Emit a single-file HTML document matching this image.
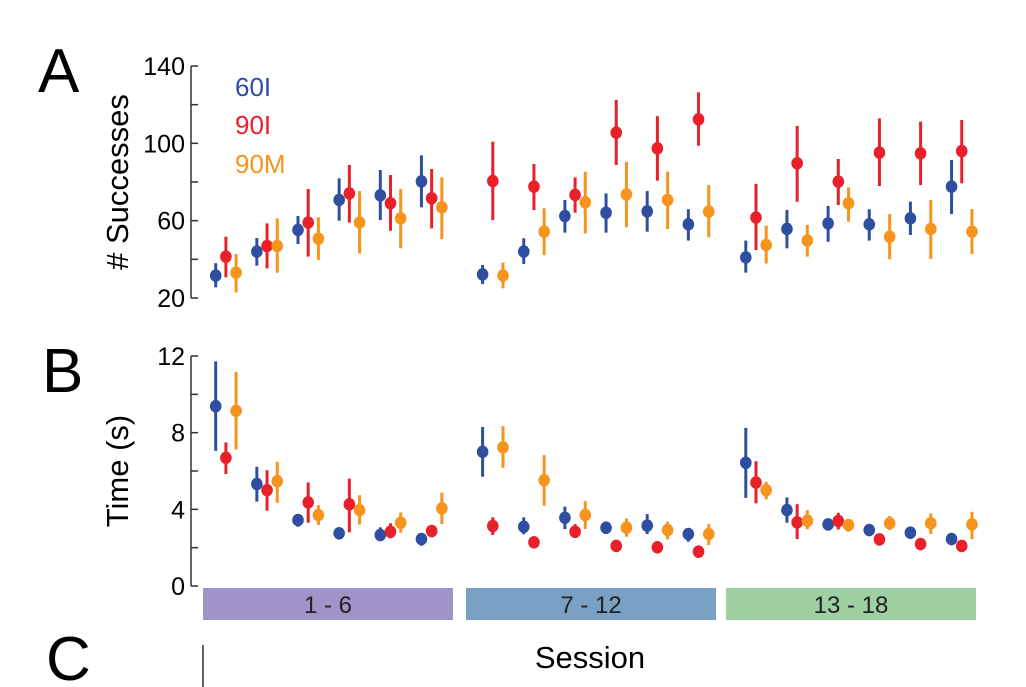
<!DOCTYPE html>
<html><head><meta charset="utf-8"><style>
html,body{margin:0;background:#fff;width:1026px;height:687px;overflow:hidden;}
svg{display:block;font-family:"Liberation Sans",Arial,sans-serif;overflow:hidden;}
</style></head><body>
<svg id="c" width="1026" height="687" viewBox="0 0 1026 687">
<text x="38" y="92" font-size="62">A</text>
<text x="42" y="392" font-size="62">B</text>
<text x="46" y="680" font-size="62">C</text>
<text transform="translate(128,182) rotate(-90)" text-anchor="middle" font-size="31"># Successes</text>
<text transform="translate(128,471) rotate(-90)" text-anchor="middle" font-size="31">Time (s)</text>
<text x="235" y="96" font-size="26" fill="#2e4ea0">60I</text>
<text x="235" y="134" font-size="26" fill="#e8202a">90I</text>
<text x="235" y="173" font-size="26" fill="#f7941d">90M</text>
<text x="590" y="668" text-anchor="middle" font-size="31">Session</text>
<line x1="203" y1="645" x2="203" y2="687" stroke="#333" stroke-width="1.5"/>
<g id="gA"></g><g id="gB"></g><g id="gBlocks"></g>
</svg>
<script>
const sessions=[1,2,3,4,5,6,7,8,9,10,11,12,13,14,15,16,17,18];
const blockLabels=["1 - 6","7 - 12","13 - 18"];
const ticksA=[20,40,60,80,100,120,140];
const tickLabelsA=["20","","60","","100","","140"];
const ticksB=[0,2,4,6,8,10,12];
const tickLabelsB=["0","","4","","8","","12"];
const a60=[31.6,44,55.2,70.7,73.1,80.3,32.2,44,62.4,64.1,64.8,58.1,41,55.7,58.6,58.1,61.2,77.6];
const a60hi=[38,51,62.4,81.9,86.2,93.8,37.1,50.9,70.7,74.1,75.3,65.9,49.7,65.5,67.6,65.9,69.8,91.4];
const a60lo=[25.5,36.7,47.9,60,60.3,66.9,27.2,37.6,53.8,53.8,54.3,49.7,33.1,45.7,49.1,49.7,52.6,63.4];
const a90i=[41.4,46.9,59,74.1,69,71.6,80.5,77.6,73.3,105.5,97.4,112.4,61.6,89.7,80.2,95.2,94.8,96];
const a90ihi=[51.7,58.6,76.4,88.8,83.6,86.7,100.9,89.3,82.4,122.4,114.1,126.4,79,109,91.9,112.9,111.2,112.1];
const a90ilo=[30.7,35.3,41.4,59,54.8,56,60.3,65.5,64.1,88.8,80.7,98.8,44.8,69.8,68.1,77.9,78.4,79.3];
const a90m=[33.1,46.9,50.7,59.1,61.2,66.9,31.6,54.3,69.5,73.6,70.7,64.7,47.4,49.7,69,51.7,55.7,54.3];
const a90mhi=[42.8,61.2,61.7,75.3,76.4,82.4,38.3,66.4,85.3,90.5,85.3,78.4,57.4,57.8,77.2,63.4,70.7,66];
const a90mlo=[22.9,33.1,39.7,43.1,45.7,50.5,25,42.2,53.4,56.6,55.7,51.4,37.9,41.4,59.5,40,40.2,42.8];
const b60=[9.38,5.32,3.44,2.75,2.66,2.45,7.0,3.09,3.56,3.04,3.15,2.71,6.43,3.96,3.21,2.92,2.78,2.45];
const b60hi=[11.72,6.22,3.7,3.0,3.06,2.71,8.3,3.58,4.14,3.35,3.75,3.0,8.25,4.62,3.48,3.15,3.06,2.71];
const b60lo=[7.05,4.4,3.09,2.45,2.35,2.1,5.7,2.7,2.97,2.71,2.71,2.31,4.6,3.3,2.92,2.62,2.49,2.19];
const b90i=[6.69,5.0,4.36,4.26,2.83,2.87,3.13,2.28,2.83,2.09,2.02,1.79,5.4,3.32,3.39,2.43,2.19,2.09];
const b90ihi=[7.49,6.04,5.4,5.6,3.27,3.13,3.58,2.4,3.23,2.2,2.13,1.9,6.51,4.27,3.82,2.62,2.38,2.2];
const b90ilo=[5.84,3.93,3.3,2.8,2.49,2.54,2.66,2.16,2.54,1.98,1.9,1.68,4.31,2.45,2.95,2.26,2.0,1.98];
const b90m=[9.14,5.47,3.7,3.96,3.3,4.05,7.23,5.52,3.7,3.04,2.92,2.71,5.0,3.4,3.18,3.27,3.27,3.21];
const b90mhi=[11.17,6.48,4.22,4.74,3.84,4.87,8.34,6.83,4.43,3.53,3.35,3.23,5.44,3.96,3.48,3.65,3.79,3.87];
const b90mlo=[7.12,4.34,3.18,3.21,2.78,3.23,6.17,4.19,2.97,2.57,2.43,2.14,4.52,2.97,2.83,2.92,2.71,2.45];

const NS="http://www.w3.org/2000/svg";
function mk(t,at,p){const e=document.createElementNS(NS,t);for(const k in at)e.setAttribute(k,at[k]);p.appendChild(e);return e;}
const blockStart=[215.7,482.6,745.8], step=41.15;
function xS(s){const i=s-1;return blockStart[Math.floor(i/6)]+(i%6)*step;}
const yA=v=>298-(v-20)*(232/120);
const yB=v=>586-v*(230/12);
const colors={b:"#2e4ea0",r:"#e8202a",o:"#f7941d"};

function axis(g,ticks,labels,y,top,bot,name){
  const l=mk('line',{x1:191,x2:191,y1:top,y2:bot,stroke:'#333','stroke-width':1.5},g);
  
  
  ticks.forEach((t,i)=>{
    const tk=mk('line',{x1:191,x2:198,y1:y(t),y2:y(t),stroke:'#333','stroke-width':1.5},g);
    
    
    if(labels[i]){const tx=mk('text',{x:185,y:y(t)+9,'text-anchor':'end','font-size':25},g);tx.textContent=labels[i];
    
    }
  });
}
function series(g,vals,hi,lo,off,col,y,name){
  sessions.forEach((s,i)=>{
    const x=xS(s)+off;
    const ln=mk('line',{x1:x,x2:x,y1:y(hi[i]),y2:y(lo[i]),stroke:col,'stroke-width':3},g);
    
    
    const c=mk('ellipse',{cx:x,cy:y(vals[i]),rx:5.8,ry:6.3,fill:col},g);
    
    
  });
}
const gA=document.getElementById('gA'),gB=document.getElementById('gB'),gK=document.getElementById('gBlocks');
axis(gA,ticksA,tickLabelsA,yA,yA(140),yA(20),'y-axis-a');
axis(gB,ticksB,tickLabelsB,yB,yB(12),yB(0),'y-axis-b');
series(gA,a60,a60hi,a60lo,0,colors.b,yA,'successes-60i');
series(gA,a90i,a90ihi,a90ilo,10.2,colors.r,yA,'successes-90i');
series(gA,a90m,a90mhi,a90mlo,20.4,colors.o,yA,'successes-90m');
series(gB,b60,b60hi,b60lo,0,colors.b,yB,'time-60i');
series(gB,b90i,b90ihi,b90ilo,10.2,colors.r,yB,'time-90i');
series(gB,b90m,b90mhi,b90mlo,20.4,colors.o,yB,'time-90m');
const bx=[[203,453,'#a093c8'],[466,716,'#7aa0c4'],[726,976,'#9ed0a4']];
bx.forEach((b,i)=>{
  const r=mk('rect',{x:b[0],y:588,width:b[1]-b[0],height:32,fill:b[2]},gK);
  
  
  const t=mk('text',{x:(b[0]+b[1])/2,y:613,'text-anchor':'middle','font-size':24,fill:'#222'},gK);
  t.textContent=blockLabels[i];
  
  
});
</script>
</body></html>
